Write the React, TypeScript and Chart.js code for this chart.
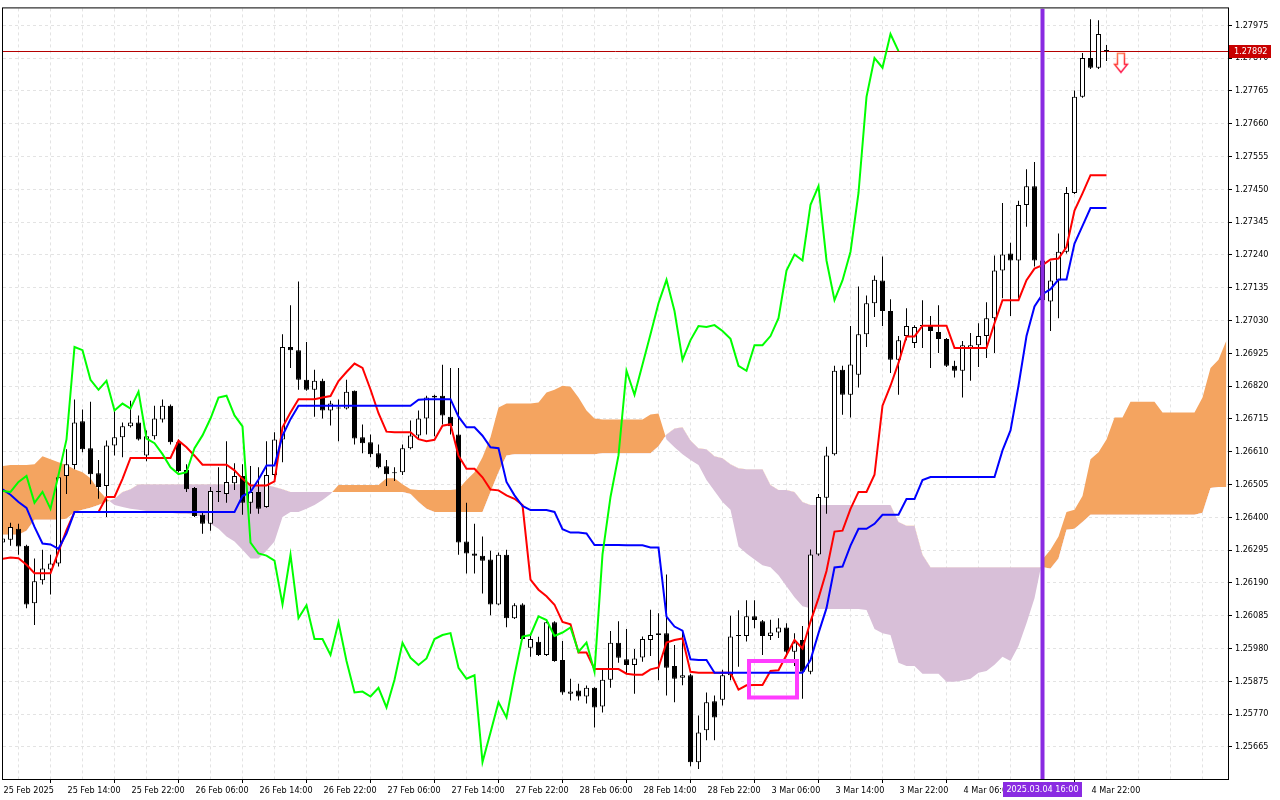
import React, { useEffect, useRef } from 'react';
import { Chart, registerables } from 'chart.js';

Chart.register(...registerables);

// ---------- candles (hourly), bar 0 = 25 Feb 06:00 ----------
const opens: number[] = [
  1.26319,1.26328,1.26363,1.26309,1.26125,1.26198,1.26233,1.26252,1.26532,1.26567,
  1.26707,1.26621,1.26541,1.26500,1.26630,1.26656,1.26691,1.26703,1.26598,1.26659,
  1.26713,1.26757,1.26640,1.26551,1.26494,1.26408,1.26379,1.26484,1.26474,1.26509,
  1.26532,1.26446,1.26481,1.26433,1.26535,1.26649,1.26945,1.26935,1.26840,1.26808,
  1.26837,1.26742,1.26751,1.26748,1.26805,1.26656,1.26640,1.26605,1.26563,1.26541,
  1.26544,1.26621,1.26662,1.26716,1.26783,1.26789,1.26722,1.26665,1.26322,1.26284,
  1.26277,1.26265,1.26121,1.26280,1.26077,1.26121,1.25982,1.26001,1.25959,1.26064,
  1.25943,1.25835,1.25845,1.25826,1.25854,1.25794,1.25880,1.25998,1.25945,1.25927,
  1.25951,1.26007,1.26023,1.26029,1.25924,1.25886,1.25894,1.25616,1.25718,1.25811,
  1.25816,1.25894,1.26020,1.26020,1.26083,1.26067,1.26020,1.26031,1.26047,1.25969,
  1.26007,1.25905,1.26281,1.26462,1.26602,1.26872,1.26792,1.26856,1.26986,1.27085,
  1.27158,1.27060,1.26904,1.26980,1.26958,1.27012,1.27012,1.26993,1.26971,1.26885,
  1.26869,1.26942,1.26951,1.26980,1.27037,1.27190,1.27244,1.27222,1.27400,1.27460,
  1.27222,1.27091,1.27158,1.27250,1.27438,1.27746,1.27870,1.27839,1.27896,
];
const highs: number[] = [
  1.26338,1.26382,1.26379,1.26312,1.26268,1.26296,1.26280,1.26532,1.26618,1.26777,
  1.26745,1.26770,1.26583,1.26646,1.26745,1.26703,1.26773,1.26726,1.26678,1.26757,
  1.26777,1.26761,1.26649,1.26570,1.26497,1.26420,1.26497,1.26560,1.26643,1.26573,
  1.26570,1.26564,1.26560,1.26643,1.26672,1.26986,1.27079,1.27155,1.26961,1.26872,
  1.26843,1.26773,1.26777,1.26840,1.26806,1.26697,1.26665,1.26633,1.26583,1.26560,
  1.26633,1.26710,1.26742,1.26789,1.26792,1.26888,1.26878,1.26878,1.26446,1.26379,
  1.26338,1.26293,1.26287,1.26296,1.26125,1.26125,1.26029,1.26017,1.26067,1.26067,
  1.26004,1.25883,1.25867,1.25861,1.25856,1.25915,1.26036,1.26067,1.26042,1.25978,
  1.26018,1.26104,1.26093,1.26217,1.25991,1.26039,1.25899,1.25765,1.25839,1.25829,
  1.25912,1.26085,1.26102,1.26134,1.26134,1.26071,1.26072,1.26077,1.26061,1.26029,
  1.26052,1.26297,1.26474,1.26626,1.26885,1.26885,1.27012,1.27139,1.27110,1.27174,
  1.27235,1.27098,1.26980,1.27069,1.27015,1.27095,1.27044,1.27079,1.26974,1.26901,
  1.26964,1.26990,1.27021,1.27088,1.27238,1.27406,1.27279,1.27413,1.27514,1.27537,
  1.27244,1.27219,1.27308,1.27457,1.27766,1.27886,1.27994,1.27991,1.27912,
];
const lows: number[] = [
  1.26312,1.26309,1.26280,1.26109,1.26055,1.26185,1.26153,1.26242,1.26474,1.26554,
  1.26608,1.26506,1.26459,1.26401,1.26598,1.26592,1.26687,1.26646,1.26579,1.26649,
  1.26703,1.26633,1.26544,1.26481,1.26401,1.26347,1.26357,1.26449,1.26446,1.26487,
  1.26408,1.26411,1.26411,1.26430,1.26522,1.26576,1.26878,1.26808,1.26805,1.26722,
  1.26716,1.26694,1.26643,1.26745,1.26633,1.26605,1.26592,1.26557,1.26500,1.26516,
  1.26535,1.26618,1.26649,1.26665,1.26659,1.26697,1.26665,1.26280,1.26220,1.26220,
  1.26156,1.26086,1.26118,1.26048,1.26074,1.26007,1.25953,1.25956,1.25956,1.25937,
  1.25832,1.25813,1.25813,1.25804,1.25727,1.25775,1.25854,1.25934,1.25897,1.25835,
  1.25937,1.25956,1.25878,1.25829,1.25808,1.25862,1.25603,1.25594,1.25686,1.25686,
  1.25797,1.25878,1.25921,1.26002,1.26045,1.25959,1.26007,1.26013,1.25953,1.25924,
  1.25819,1.25897,1.26277,1.26411,1.26598,1.26728,1.26719,1.26815,1.26945,1.27041,
  1.27012,1.26862,1.26792,1.26967,1.26942,1.26942,1.26878,1.26926,1.26881,1.26847,
  1.26783,1.26837,1.26881,1.26910,1.26926,1.27101,1.27044,1.27101,1.27330,1.27203,
  1.27063,1.26996,1.27037,1.27244,1.27435,1.27743,1.27835,1.27835,1.27861,
];
const closes: number[] = [
  1.26332,1.26369,1.26306,1.26121,1.26195,1.26236,1.26252,1.26528,1.26570,1.26703,
  1.26618,1.26538,1.26497,1.26630,1.26656,1.26691,1.26703,1.26649,1.26659,1.26716,
  1.26757,1.26640,1.26548,1.26490,1.26404,1.26379,1.26484,1.26481,1.26513,1.26532,
  1.26446,1.26481,1.26427,1.26535,1.26649,1.26945,1.26935,1.26840,1.26808,1.26837,
  1.26742,1.26764,1.26748,1.26802,1.26652,1.26637,1.26602,1.26560,1.26538,1.26544,
  1.26621,1.26662,1.26716,1.26783,1.26789,1.26726,1.26691,1.26319,1.26284,1.26277,
  1.26261,1.26121,1.26280,1.26077,1.26118,1.26010,1.26010,1.25959,1.26064,1.25940,
  1.25839,1.25842,1.25826,1.25854,1.25791,1.25880,1.25998,1.25950,1.25927,1.25948,
  1.26010,1.26023,1.26029,1.25918,1.25883,1.25894,1.25616,1.25711,1.25808,1.25759,
  1.25894,1.26018,1.26023,1.26083,1.26071,1.26020,1.26031,1.26047,1.25969,1.25999,
  1.25905,1.26281,1.26465,1.26598,1.26869,1.26792,1.26889,1.26986,1.27085,1.27160,
  1.27060,1.26904,1.26967,1.27012,1.27009,1.27015,1.26996,1.26971,1.26885,1.26869,
  1.26951,1.26951,1.26980,1.27037,1.27190,1.27241,1.27222,1.27400,1.27460,1.27222,
  1.27095,1.27158,1.27250,1.27438,1.27746,1.27870,1.27839,1.27947,1.27892,
];

// ---------- Ichimoku lines ----------
const tenkan: number[] = [
  1.26267,1.26271,1.26269,1.26248,1.26221,1.26221,1.26221,1.26290,1.26359,1.26417,
  1.26417,1.26417,1.26417,1.26465,1.26465,1.26523,1.26590,1.26590,1.26590,1.26590,
  1.26590,1.26590,1.26645,1.26624,1.26597,1.26568,1.26568,1.26568,1.26568,1.26550,
  1.26523,1.26502,1.26502,1.26502,1.26515,1.26688,1.26735,1.26778,1.26778,1.26778,
  1.26783,1.26788,1.26836,1.26865,1.26892,1.26878,1.26809,1.26733,1.26674,1.26672,
  1.26672,1.26672,1.26650,1.26643,1.26648,1.26693,1.26698,1.26597,1.26555,1.26555,
  1.26528,1.26489,1.26486,1.26470,1.26459,1.26439,1.26200,1.26168,1.26147,1.26120,
  1.26065,1.26057,1.25967,1.25967,1.25914,1.25914,1.25914,1.25914,1.25899,1.25896,
  1.25896,1.25913,1.25919,1.25999,1.26007,1.26012,1.25905,1.25902,1.25902,1.25902,
  1.25902,1.25902,1.25848,1.25862,1.25863,1.25863,1.25908,1.25910,1.25959,1.26007,
  1.25980,1.26066,1.26141,1.26228,1.26354,1.26357,1.26427,1.26481,1.26481,1.26536,
  1.26757,1.26821,1.26894,1.26979,1.26979,1.27013,1.27013,1.27013,1.27013,1.26942,
  1.26942,1.26942,1.26942,1.26942,1.27021,1.27095,1.27095,1.27095,1.27159,1.27196,
  1.27207,1.27225,1.27228,1.27265,1.27382,1.27437,1.27495,1.27495,1.27495,
];
const kijun: number[] = [
  1.26489,1.26472,1.26449,1.26430,1.26369,1.26316,1.26313,1.26299,1.26348,1.26417,
  1.26417,1.26417,1.26417,1.26417,1.26417,1.26417,1.26417,1.26417,1.26417,1.26417,
  1.26417,1.26417,1.26417,1.26417,1.26417,1.26417,1.26417,1.26417,1.26417,1.26417,
  1.26468,1.26481,1.26521,1.26566,1.26566,1.26661,1.26714,1.26757,1.26757,1.26757,
  1.26757,1.26757,1.26757,1.26757,1.26757,1.26757,1.26757,1.26757,1.26757,1.26757,
  1.26757,1.26757,1.26776,1.26778,1.26778,1.26778,1.26778,1.26722,1.26688,1.26688,
  1.26661,1.26624,1.26621,1.26513,1.26470,1.26436,1.26423,1.26423,1.26423,1.26417,
  1.26362,1.26351,1.26351,1.26348,1.26311,1.26311,1.26311,1.26311,1.26310,1.26310,
  1.26310,1.26303,1.26303,1.26082,1.26050,1.26037,1.25945,1.25943,1.25943,1.25902,
  1.25902,1.25902,1.25902,1.25902,1.25902,1.25902,1.25902,1.25902,1.25902,1.25902,
  1.25902,1.25943,1.26029,1.26109,1.26239,1.26242,1.26309,1.26363,1.26363,1.26379,
  1.26408,1.26408,1.26408,1.26458,1.26458,1.26519,1.26529,1.26529,1.26529,1.26529,
  1.26529,1.26529,1.26529,1.26529,1.26529,1.26614,1.26678,1.26821,1.26980,1.27075,
  1.27114,1.27130,1.27161,1.27161,1.27276,1.27333,1.27390,1.27390,1.27390,
];
// cloud spans, already displaced 26 bars forward (position 0 = first visible bar)
const spanA: number[] = [
  1.26564,1.26567,1.26567,1.26567,1.26570,1.26595,1.26586,1.26576,1.26567,1.26554,
  1.26544,1.26525,1.26487,1.26459,1.26439,1.26433,1.26427,1.26424,1.26420,1.26417,
  1.26417,1.26414,1.26411,1.26411,1.26408,1.26401,1.26379,1.26363,1.26338,1.26322,
  1.26296,1.26268,1.26268,1.26293,1.26322,1.26401,1.26417,1.26417,1.26427,1.26439,
  1.26455,1.26474,1.26503,1.26503,1.26503,1.26503,1.26503,1.26503,1.26525,1.26525,
  1.26506,1.26490,1.26487,1.26487,1.26487,1.26487,1.26487,1.26490,1.26519,1.26544,
  1.26592,1.26656,1.26751,1.26764,1.26764,1.26764,1.26764,1.26767,1.26799,1.26808,
  1.26821,1.26818,1.26783,1.26742,1.26716,1.26713,1.26713,1.26713,1.26713,1.26713,
  1.26713,1.26729,1.26732,1.26649,1.26624,1.26602,1.26583,1.26567,1.26519,1.26484,
  1.26449,1.26424,1.26306,1.26284,1.26265,1.26246,1.26240,1.26214,1.26179,1.26144,
  1.26115,1.26109,1.26106,1.26106,1.26106,1.26106,1.26106,1.26106,1.26103,1.26042,
  1.26029,1.26023,1.25934,1.25924,1.25924,1.25899,1.25899,1.25899,1.25873,1.25873,
  1.25877,1.25883,1.25902,1.25908,1.25928,1.25953,1.25940,1.25988,1.26061,1.26141,
  1.26265,1.26296,1.26338,1.26417,1.26424,1.26468,1.26586,1.26608,1.26649,1.26719,
  1.26719,1.26770,1.26770,1.26770,1.26770,1.26735,1.26735,1.26735,1.26735,1.26735,
  1.26783,1.26878,1.26904,1.26967,
];
const spanB: number[] = [
  1.26344,1.26344,1.26344,1.26357,1.26392,1.26392,1.26392,1.26392,1.26395,1.26417,
  1.26424,1.26430,1.26439,1.26449,1.26459,1.26481,1.26490,1.26506,1.26506,1.26506,
  1.26506,1.26506,1.26506,1.26506,1.26506,1.26506,1.26506,1.26506,1.26506,1.26506,
  1.26506,1.26506,1.26506,1.26503,1.26497,1.26490,1.26481,1.26481,1.26481,1.26481,
  1.26481,1.26481,1.26481,1.26481,1.26481,1.26481,1.26481,1.26481,1.26481,1.26481,
  1.26481,1.26474,1.26449,1.26427,1.26417,1.26417,1.26417,1.26417,1.26417,1.26417,
  1.26417,1.26481,1.26544,1.26598,1.26602,1.26602,1.26602,1.26602,1.26602,1.26602,
  1.26602,1.26602,1.26602,1.26602,1.26602,1.26605,1.26605,1.26605,1.26605,1.26605,
  1.26605,1.26605,1.26627,1.26665,1.26684,1.26688,1.26646,1.26621,1.26618,1.26595,
  1.26589,1.26570,1.26557,1.26554,1.26554,1.26554,1.26503,1.26487,1.26487,1.26481,
  1.26449,1.26439,1.26439,1.26439,1.26439,1.26439,1.26439,1.26439,1.26439,1.26439,
  1.26439,1.26439,1.26385,1.26373,1.26373,1.26280,1.26240,1.26240,1.26240,1.26240,
  1.26240,1.26240,1.26240,1.26240,1.26240,1.26240,1.26240,1.26240,1.26240,1.26240,
  1.26240,1.26236,1.26268,1.26360,1.26363,1.26385,1.26408,1.26408,1.26408,1.26408,
  1.26408,1.26408,1.26408,1.26408,1.26408,1.26408,1.26408,1.26408,1.26408,1.26408,
  1.26414,1.26494,1.26497,1.26497,
];
const CHIKOU_SHIFT = 26;

// ---------- axes ----------
const timeLabels: string[] = [
  '25 Feb 2025', '25 Feb 14:00', '25 Feb 22:00', '26 Feb 06:00', '26 Feb 14:00',
  '26 Feb 22:00', '27 Feb 06:00', '27 Feb 14:00', '27 Feb 22:00', '28 Feb 06:00',
  '28 Feb 14:00', '28 Feb 22:00', '3 Mar 06:00', '3 Mar 14:00', '3 Mar 22:00',
  '4 Mar 06:00', '', '4 Mar 22:00',
];
const BARS_PER_LABEL = 8;
const BARS_PER_GRID = 4;
const priceTicks: number[] = [
  1.25665, 1.25770, 1.25875, 1.25980, 1.26085, 1.26190, 1.26295, 1.26400, 1.26505,
  1.26610, 1.26715, 1.26820, 1.26925, 1.27030, 1.27135, 1.27240, 1.27345, 1.27450,
  1.27555, 1.27660, 1.27765, 1.27870, 1.27975,
];
const X_MIN = 0.0625;
const X_MAX = 153.1875;
const Y_MIN = 1.25562;
const Y_MAX = 1.28029;

// ---------- annotations ----------
const LAST_PRICE = 1.27892;
const SIGNAL_BAR = 130;
const SIGNAL_LABEL = '2025.03.04 16:00';
const rectBars = [93.31, 99.31];
const rectPrices = [1.25823, 1.25940];
const arrowBar = 139.8;
const arrowPrice = 1.27855;

const FONT = "'DejaVu Sans Condensed', 'Liberation Sans', sans-serif";
const FONT_SIZE = 9;

function makeArrow(): HTMLCanvasElement {
  const c = document.createElement('canvas');
  c.width = 16;
  c.height = 22;
  const g = c.getContext('2d')!;
  g.beginPath();
  g.moveTo(4.5, 1.5);
  g.lineTo(11.5, 1.5);
  g.lineTo(11.5, 12.5);
  g.lineTo(14.5, 12.5);
  g.lineTo(8, 20.5);
  g.lineTo(1.5, 12.5);
  g.lineTo(4.5, 12.5);
  g.closePath();
  g.fillStyle = '#ffffff';
  g.fill();
  const grad = g.createLinearGradient(0, 0, 16, 22);
  grad.addColorStop(0, '#ffa060');
  grad.addColorStop(0.5, '#ff3030');
  grad.addColorStop(1, '#ff0060');
  g.strokeStyle = grad;
  g.lineWidth = 1.5;
  g.stroke();
  return c;
}

export default function App() {
  const ref = useRef<HTMLCanvasElement>(null);

  useEffect(() => {
    document.body.style.margin = '0';
    const canvas = ref.current;
    if (!canvas) return;

    const labelMap: Record<number, string> = {};
    timeLabels.forEach((t, k) => {
      labelMap[k * BARS_PER_LABEL] = t;
    });
    const gridValues: number[] = [];
    for (let v = 0; v <= X_MAX; v += BARS_PER_GRID) gridValues.push(v);

    const pts = (arr: number[]) => arr.map((v, i) => ({ x: i, y: v }));
    const chikou = pts(closes.slice(CHIKOU_SHIFT));

    const decor = {
      id: 'decor',
      beforeDraw(chart: any) {
        const { ctx } = chart;
        ctx.save();
        ctx.fillStyle = '#ffffff';
        ctx.fillRect(0, 0, chart.width, chart.height);
        ctx.restore();
      },
      beforeDatasetsDraw(chart: any) {
        // last price (bid) line, under the candles
        const { ctx, chartArea: a, scales } = chart;
        const py = Math.round(scales.y.getPixelForValue(LAST_PRICE)) + 0.5;
        ctx.save();
        ctx.strokeStyle = '#b40000';
        ctx.lineWidth = 1;
        ctx.beginPath();
        ctx.moveTo(a.left, py);
        ctx.lineTo(a.right, py);
        ctx.stroke();
        ctx.restore();
      },
      afterDraw(chart: any) {
        const { ctx, chartArea: a, scales } = chart;
        ctx.save();
        ctx.strokeStyle = '#000000';
        ctx.lineWidth = 1;
        ctx.strokeRect(a.left - 0.5, a.top - 0.5, a.right - a.left + 1, a.bottom - a.top + 1);

        ctx.font = `${FONT_SIZE}px ${FONT}`;
        ctx.textBaseline = 'middle';
        // last price label
        const py = Math.round(scales.y.getPixelForValue(LAST_PRICE));
        ctx.fillStyle = '#c80000';
        ctx.fillRect(a.right + 1, py - 6, 42, 13);
        ctx.fillStyle = '#ffffff';
        ctx.textAlign = 'left';
        ctx.fillText(LAST_PRICE.toFixed(5), a.right + 6, py + 0.5);
        // highlighted time label
        const tx = scales.x.getPixelForValue(SIGNAL_BAR);
        ctx.fillStyle = '#8a2be2';
        ctx.fillRect(Math.round(tx - 39.5), a.bottom + 3, 79, 15);
        ctx.fillStyle = '#ffffff';
        ctx.textAlign = 'center';
        ctx.fillText(SIGNAL_LABEL, tx, a.bottom + 10.5);
        ctx.restore();
      },
    };

    const base = { pointRadius: 0, pointHoverRadius: 0, tension: 0, clip: 0 };

    const datasets: any[] = [
      {
        ...base,
        type: 'line',
        label: 'Senkou Span A',
        data: pts(spanA),
        borderWidth: 0,
        borderColor: 'rgba(0,0,0,0)',
        fill: { target: '+1', above: '#F4A460', below: '#D8BFD8' },
        order: 20,
      },
      {
        ...base,
        type: 'line',
        label: 'Senkou Span B',
        data: pts(spanB),
        borderWidth: 0,
        borderColor: 'rgba(0,0,0,0)',
        fill: false,
        order: 19,
      },
      {
        type: 'bar',
        label: 'wicks',
        data: highs.map((h, i) => ({ x: i, y: [lows[i], h] })),
        backgroundColor: '#000000',
        borderWidth: 0,
        barThickness: 1,
        grouped: false,
        inflateAmount: 0,
        minBarLength: 1,
        clip: 0,
        order: 10,
      },
      {
        type: 'bar',
        label: 'bodies',
        data: opens.map((o, i) => ({ x: i, y: [Math.min(o, closes[i]), Math.max(o, closes[i])] })),
        backgroundColor: opens.map((o, i) => (closes[i] >= o ? '#ffffff' : '#000000')),
        borderColor: '#000000',
        borderWidth: 1,
        borderSkipped: false,
        barThickness: 5,
        grouped: false,
        inflateAmount: 0,
        minBarLength: 1,
        clip: 0,
        order: 9,
      },
      {
        ...base,
        type: 'line',
        label: 'Tenkan-sen',
        data: pts(tenkan),
        borderColor: '#ff0000',
        borderWidth: 2,
        fill: false,
        order: 6,
      },
      {
        ...base,
        type: 'line',
        label: 'Kijun-sen',
        data: pts(kijun),
        borderColor: '#0000ff',
        borderWidth: 2,
        fill: false,
        order: 5,
      },
      {
        ...base,
        type: 'line',
        label: 'Chikou Span',
        data: chikou,
        borderColor: '#00ff00',
        borderWidth: 2,
        fill: false,
        order: 4,
      },
      {
        ...base,
        type: 'line',
        label: 'signal time',
        data: [{ x: SIGNAL_BAR, y: Y_MIN }, { x: SIGNAL_BAR, y: Y_MAX }],
        borderColor: '#8a2be2',
        borderWidth: 4,
        fill: false,
        order: 3,
      },
      {
        ...base,
        type: 'line',
        label: 'rectangle',
        data: [
          { x: rectBars[0], y: rectPrices[1] },
          { x: rectBars[1], y: rectPrices[1] },
          { x: rectBars[1], y: rectPrices[0] },
          { x: rectBars[0], y: rectPrices[0] },
          { x: rectBars[0], y: rectPrices[1] },
        ],
        borderColor: '#ff3cff',
        borderWidth: 4,
        borderJoinStyle: 'miter',
        borderCapStyle: 'square',
        fill: false,
        order: 2,
      },
      {
        type: 'scatter',
        label: 'sell arrow',
        data: [{ x: arrowBar, y: arrowPrice }],
        pointStyle: makeArrow(),
        pointRadius: 8,
        pointHoverRadius: 8,
        clip: 0,
        order: 1,
      },
    ];

    const font = { family: FONT, size: FONT_SIZE };

    const chart = new Chart(canvas, {
      type: 'line',
      data: { datasets },
      options: {
        responsive: false,
        maintainAspectRatio: false,
        animation: false,
        devicePixelRatio: 1,
        events: [],
        layout: { autoPadding: false, padding: { left: 3, top: 3, right: 0, bottom: 0 } },
        plugins: {
          legend: { display: false },
          tooltip: { enabled: false },
          title: { display: false },
        },
        scales: {
          x: {
            type: 'linear',
            min: X_MIN,
            max: X_MAX,
            offset: false,
            afterBuildTicks: (scale: any) => {
              scale.ticks = gridValues.map((v) => ({ value: v }));
            },
            afterFit: (scale: any) => {
              scale.height = 21;
            },
            ticks: {
              autoSkip: false,
              maxRotation: 0,
              minRotation: 0,
              align: 'start',
              labelOffset: 1,
              padding: 2,
              color: '#000000',
              font,
              callback: (value: any) => labelMap[value] ?? '',
            },
            grid: {
              color: '#e3e3e3',
              lineWidth: 1,
              drawTicks: true,
              tickLength: 4,
              tickWidth: 1,
              tickColor: (ctx: any) =>
                ctx.tick && labelMap[ctx.tick.value] !== undefined && labelMap[ctx.tick.value] !== ''
                  ? '#000000'
                  : 'rgba(0,0,0,0)',
            },
            border: { display: false, dash: [3, 3] },
          },
          y: {
            type: 'linear',
            position: 'right',
            min: Y_MIN,
            max: Y_MAX,
            afterBuildTicks: (scale: any) => {
              scale.ticks = priceTicks.map((v) => ({ value: v }));
            },
            afterFit: (scale: any) => {
              scale.width = 52;
            },
            ticks: {
              autoSkip: false,
              padding: 3,
              color: '#000000',
              font,
              callback: (value: any) => Number(value).toFixed(5),
            },
            grid: {
              color: '#e3e3e3',
              lineWidth: 1,
              drawTicks: true,
              tickLength: 4,
              tickWidth: 1,
              tickColor: '#000000',
            },
            border: { display: false, dash: [3, 3] },
          },
        },
      } as any,
      plugins: [decor],
    } as any);

    return () => chart.destroy();
  }, []);

  return <canvas ref={ref} width={1280} height={800} style={{ display: 'block' }} />;
}
